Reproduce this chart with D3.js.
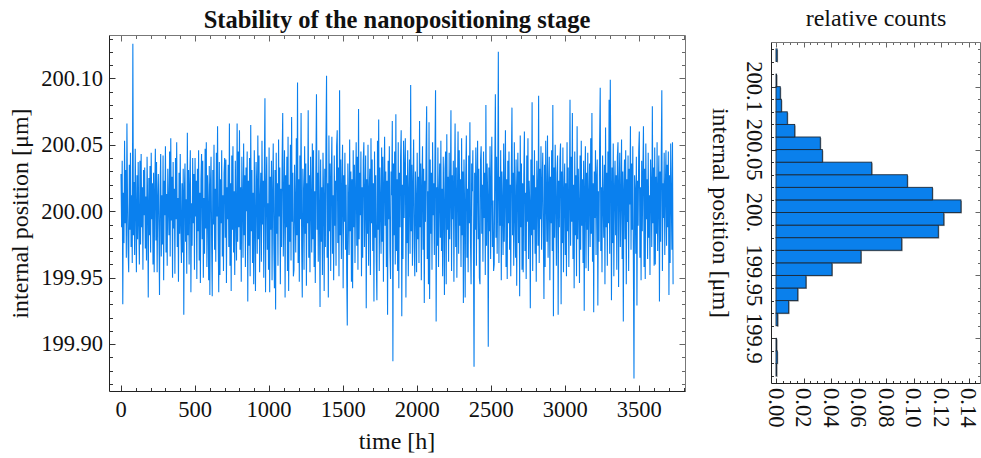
<!DOCTYPE html>
<html>
<head>
<meta charset="utf-8">
<script src="https://cdn.jsdelivr.net/npm/d3@7"></script>
<style>
html,body{margin:0;padding:0;background:#fff;}
svg{display:block;}
text{font-family:"Liberation Serif","Times New Roman",serif;fill:#111;}
</style>
</head>
<body>
<svg id="chart" width="981" height="458"></svg>
<script>
// ---------- DATA ----------
const baseline = 200;          // µm
const timeStep = 4;            // h between samples
// position offsets from 200 µm, in units of 0.001 µm (nm), one per sample
const positionOffsetNm = [
28,-12,38,-70,14,-24,53,-9,31,-35,
66,6,-30,-46,35,-14,44,-27,12,-39,
126,-18,22,-33,47,3,-46,27,-21,37,
-9,-40,38,-25,43,-12,18,-44,31,-3,
33,-28,11,-37,41,6,-65,25,-18,34,
-31,44,-6,21,-40,29,-46,15,47,-22,
37,-46,9,28,-15,-63,18,43,-34,12,
-25,42,-52,23,-3,49,-31,13,-41,32,
4,-18,45,-34,55,-7,26,-50,37,-13,
17,-47,40,-6,52,-27,10,-53,29,-17,
43,-12,-39,21,-31,32,-78,15,36,-23,
9,-47,59,-18,31,-40,20,46,-61,6,
-26,40,-9,28,-44,40,-4,23,-51,32,
-15,46,-37,14,-54,24,43,-21,38,-50,
10,-32,47,-13,52,-42,27,3,-52,34,
-63,20,41,-24,-64,31,-10,50,-29,17,
-38,44,-4,64,-17,-61,37,-48,24,-9,
46,-34,12,-45,29,40,-20,39,-54,18,
-6,35,-27,66,-41,21,-60,42,-14,49,
-31,15,-48,38,-2,-37,66,-23,45,-12,
61,-29,18,-53,41,7,-35,51,-18,27,
-42,33,0,45,-68,23,-26,40,-49,65,
-15,31,-39,14,-55,46,-8,-60,37,20,
-32,57,-21,42,-46,9,29,-38,53,-10,
23,-50,32,85,-61,15,41,-29,6,-44,
48,-61,26,-14,38,-52,12,51,-24,-58,
31,-74,44,-17,21,-41,54,-4,33,-55,
17,-27,39,74,-34,8,46,-65,27,-12,
41,-45,56,-60,20,-23,50,-37,71,-8,
29,-49,-44,35,3,-31,55,-18,97,-39,
24,-53,42,-6,74,-26,-65,32,14,-44,
49,-17,36,-56,21,-9,76,-35,27,-46,
41,5,-31,51,-21,46,-42,15,-54,33,
88,-14,29,-38,46,0,-72,39,-23,18,
-48,44,11,-60,32,-27,53,102,-35,21,
-65,57,-15,36,-45,26,56,-32,12,-52,
42,-11,23,-41,49,61,-24,33,-49,91,
-18,39,-36,17,50,-58,27,-8,44,-29,
20,-46,-86,36,3,-33,54,-15,30,-53,
24,-58,46,-12,35,-39,14,52,-26,41,
-44,77,-21,29,-3,45,-49,18,-35,38,
52,-27,11,42,-73,24,-17,50,-41,15,
32,-48,55,-9,39,-30,21,-68,45,-20,
27,-38,-67,53,-14,69,-45,33,6,-32,
48,-23,41,-53,18,56,-11,30,-42,23,
-78,38,-6,49,-29,-51,30,12,68,-113,
36,-18,45,-40,73,-30,24,-45,52,-58,
29,-12,41,61,-79,20,-36,53,-5,33,
55,-65,27,-24,46,-49,14,39,-32,95,
-15,35,-41,21,54,-27,-49,30,9,-46,
44,-21,26,-39,68,-12,36,-52,18,49,
-29,32,-69,23,-8,45,79,-36,15,-55,
67,-66,39,-17,29,-44,52,-3,21,-33,
42,91,-83,18,-26,48,-42,11,36,-20,
53,-30,17,-49,41,5,-63,32,45,-55,
58,-14,26,-38,44,-21,12,76,-45,27,
-6,38,-53,20,66,-27,33,-50,14,60,
-32,46,-11,24,-42,55,-18,30,-69,39,
6,-65,27,57,-35,17,-46,42,-9,67,
-23,-55,36,15,46,-30,-117,29,-14,48,
-41,23,53,-21,32,-50,-55,39,49,-17,
20,-38,45,-5,29,-48,80,-26,36,12,
-102,33,-15,49,-36,21,56,-27,8,-45,
-40,32,88,-20,41,-32,18,120,-39,26,
-11,46,-52,30,3,-33,51,-23,15,61,
-42,24,-51,38,-9,45,-29,20,-49,33,
78,-18,29,-41,52,0,-35,39,-56,17,
44,-24,30,-64,57,-12,36,-44,21,-46,
27,60,-30,14,-51,42,-8,55,-36,23,
6,-73,39,-18,82,-45,27,-14,46,-32,
18,-53,38,11,-26,87,-39,32,-6,49,
-29,21,44,-17,-66,35,-42,53,8,-23,
57,-35,15,41,-52,26,-9,46,-30,80,
-79,33,-20,50,5,-41,29,42,-78,23,
-12,39,51,-70,30,-24,48,-46,14,36,
-33,21,-49,52,-15,33,-42,9,84,-26,
41,-8,74,-36,20,-58,45,-18,27,-49,
64,-21,32,3,-54,42,-29,53,-11,24,
-39,38,-75,17,49,-43,29,-14,44,-45,
12,36,-27,55,-17,74,-38,21,-76,30,
-5,46,-33,26,39,-71,15,-23,52,93,
-30,18,-46,42,6,-20,35,-55,63,-12,
29,-41,45,-9,84,-32,99,23,-67,33,
-24,51,-49,14,38,-18,27,-44,41,52,
-57,20,44,-27,11,54,-36,30,-83,17,
39,-21,46,-55,24,-8,42,-45,32,5,
64,-29,36,-14,49,-39,-126,27,15,-32,
41,-71,23,-11,45,60,-35,18,-52,38,
-15,29,64,-42,32,-51,51,-6,24,-36,
44,-20,12,-48,39,17,-27,79,-9,33,
-41,48,-40,26,-17,52,-30,14,42,-68,
30,-23,38,91,-45,21,-5,44,-33,18,
46,-26,35,-12,45,-63,27,-39,51,9,
-29,52,-55
];

// histogram (relative counts per 0.01 µm bin, bins given by their lower edge)
const binLowerEdges = [199.87,199.88,199.89,199.90,199.91,199.92,199.93,199.94,199.95,199.96,199.97,199.98,199.99,
                       200.00,200.01,200.02,200.03,200.04,200.05,200.06,200.07,200.08,200.09,200.10,200.11,200.12];
const relativeCounts = [0.0002,0.0009,0.0002,0,0.0012,0.0092,0.0158,0.0218,0.0407,0.0618,0.0914,0.118,0.122,
                        0.1345,0.1137,0.0955,0.0696,0.0337,0.0322,0.0136,0.0082,0.0039,0.0031,0.0002,0,0.0008];
const binWidth = 0.01;

// ticks / labels
const timeTicks = [0,500,1000,1500,2000,2500,3000,3500];
const posTicks = [199.90,199.95,200.00,200.05,200.10];
const posTickLabels = ["199.90","199.95","200.00","200.05","200.10"];
const histPosTicks = [199.9,199.95,200.0,200.05,200.1];
const histPosTickLabels = ["199.9","199.95","200.","200.05","200.1"];
const countTicks = [0,0.02,0.04,0.06,0.08,0.10,0.12,0.14];
const countTickLabels = ["0.00","0.02","0.04","0.06","0.08","0.10","0.12","0.14"];

const titleText = "Stability of the nanopositioning stage";
const xTitle = "time [h]";
const yTitle = "internal position [\u03bcm]";
const histTitle = "relative counts";

// ---------- DRAW ----------
const svg = d3.select("#chart");
const LINE = "#0a80ee";
const BAR = "#0a80ec";
const TICKFS = 22.5, AXFS = 24;

const series = positionOffsetNm.map((v,i)=>({t:i*timeStep, y: baseline + v/1000}));

// main plot
const P = {l:109.5, r:685.5, t:35.5, b:391.5};
const x = d3.scaleLinear().domain([-77.7, 3811.9]).range([P.l, P.r]);
const y = d3.scaleLinear().domain([199.8643, 200.1323]).range([P.b, P.t]);

const clipId = "clipMain";
svg.append("clipPath").attr("id",clipId).append("rect")
  .attr("x",P.l).attr("y",P.t).attr("width",P.r-P.l).attr("height",P.b-P.t);

svg.append("path").datum(series)
  .attr("clip-path","url(#"+clipId+")")
  .attr("fill","none").attr("stroke",LINE).attr("stroke-width",1.1)
  .attr("stroke-linejoin","miter")
  .attr("d", d3.line().x(d=>x(d.t)).y(d=>y(d.y)));

// frame
function frame(g, b, dark, light){
  g.append("line").attr("x1",b.l).attr("x2",b.r).attr("y1",b.t).attr("y2",b.t).attr("stroke",light);
  g.append("line").attr("x1",b.r).attr("x2",b.r).attr("y1",b.t).attr("y2",b.b).attr("stroke",light);
  g.append("line").attr("x1",b.l).attr("x2",b.r).attr("y1",b.b).attr("y2",b.b).attr("stroke",dark);
  g.append("line").attr("x1",b.l).attr("x2",b.l).attr("y1",b.t).attr("y2",b.b).attr("stroke",dark);
}
const gm = svg.append("g");
const xMinor = d3.range(0, 3801, 100);
xMinor.forEach(t=>{
  const major = t % 500 === 0;
  const L = major ? 6 : 3.5;
  const px = Math.round(x(t))+0.5;
  gm.append("line").attr("x1",px).attr("x2",px).attr("y1",P.b).attr("y2",P.b-L).attr("stroke","#333");
  gm.append("line").attr("x1",px).attr("x2",px).attr("y1",P.t).attr("y2",P.t+L).attr("stroke","#666");
});
const yMinor = d3.range(0, 27).map(i=>199.87 + i*0.01);
yMinor.forEach(v=>{
  const major = Math.abs(Math.round(v*100)%5) === 0;
  const L = major ? 6 : 3.5;
  const py = Math.round(y(v))+0.5;
  gm.append("line").attr("x1",P.l).attr("x2",P.l+L).attr("y1",py).attr("y2",py).attr("stroke","#333");
  gm.append("line").attr("x1",P.r).attr("x2",P.r-L).attr("y1",py).attr("y2",py).attr("stroke","#666");
});
frame(gm, P, "#222", "#777");

timeTicks.forEach(t=>{
  gm.append("text").attr("x",x(t)).attr("y",417).attr("text-anchor","middle")
    .attr("font-size",TICKFS).text(t);
});
posTicks.forEach((v,i)=>{
  gm.append("text").attr("x",103).attr("y",y(v)+7.4).attr("text-anchor","end")
    .attr("font-size",TICKFS).text(posTickLabels[i]);
});
svg.append("text").attr("x",397).attr("y",28).attr("text-anchor","middle")
  .attr("font-size",24.5).attr("font-weight","bold").text(titleText);
svg.append("text").attr("x",397).attr("y",449).attr("text-anchor","middle")
  .attr("font-size",AXFS).text(xTitle);
svg.append("text").attr("transform","translate(28,"+((P.t+P.b)/2)+") rotate(-90)")
  .attr("text-anchor","middle").attr("font-size",AXFS).text(yTitle);

// histogram
const H = {l:771.5, r:980.5, t:42.5, b:383.5};
const xh = d3.scaleLinear().domain([-0.00327, 0.1487]).range([H.l, H.r]);
const yh = d3.scaleLinear().domain([199.8641, 200.1351]).range([H.b, H.t]);
const gh = svg.append("g");

const bins = binLowerEdges.map((e,i)=>({lo:e, hi:e+binWidth, c:relativeCounts[i]})).filter(d=>d.c>0);
gh.selectAll("rect.sh").data(bins).join("rect").attr("class","sh")
  .attr("x", xh(0)+1).attr("y", d=>yh(d.hi)+1)
  .attr("width", d=>Math.max(0.6, xh(d.c)-xh(0)))
  .attr("height", d=>yh(d.lo)-yh(d.hi))
  .attr("fill","#9a9a9a");
gh.selectAll("rect.bar").data(bins).join("rect").attr("class","bar")
  .attr("x", xh(0)).attr("y", d=>yh(d.hi))
  .attr("width", d=>Math.max(0.6, xh(d.c)-xh(0)))
  .attr("height", d=>yh(d.lo)-yh(d.hi))
  .attr("fill",BAR).attr("stroke","#1b2a3a").attr("stroke-width",0.9);

d3.range(0, 31).map(i=>i*0.005).filter(v=>xh(v)<=H.r).forEach(v=>{
  const major = Math.abs(Math.round(v*1000)%20) === 0;
  const L = major ? 5 : 2.5;
  const px = Math.round(xh(v))+0.5;
  gh.append("line").attr("x1",px).attr("x2",px).attr("y1",H.b).attr("y2",H.b-L).attr("stroke","#333");
  gh.append("line").attr("x1",px).attr("x2",px).attr("y1",H.t).attr("y2",H.t+L).attr("stroke","#666");
});
yMinor.forEach(v=>{
  const major = Math.abs(Math.round(v*100)%5) === 0;
  const L = major ? 5 : 2.5;
  const py = Math.round(yh(v))+0.5;
  gh.append("line").attr("x1",H.l).attr("x2",H.l+L).attr("y1",py).attr("y2",py).attr("stroke","#333");
  gh.append("line").attr("x1",H.r).attr("x2",H.r-L).attr("y1",py).attr("y2",py).attr("stroke","#666");
});
frame(gh, H, "#222", "#777");

countTicks.forEach((v,i)=>{
  gh.append("text").attr("transform","translate("+(xh(v)-7.4)+",388) rotate(90)")
    .attr("text-anchor","start").attr("font-size",TICKFS).text(countTickLabels[i]);
});
histPosTicks.forEach((v,i)=>{
  gh.append("text").attr("transform","translate(747,"+yh(v)+") rotate(90)")
    .attr("text-anchor","middle").attr("font-size",TICKFS).text(histPosTickLabels[i]);
});
svg.append("text").attr("x",876).attr("y",26).attr("text-anchor","middle")
  .attr("font-size",AXFS).text(histTitle);
svg.append("text").attr("transform","translate(713,"+((H.t+H.b)/2)+") rotate(90)")
  .attr("text-anchor","middle").attr("font-size",AXFS).text(yTitle);
</script>
</body>
</html>
